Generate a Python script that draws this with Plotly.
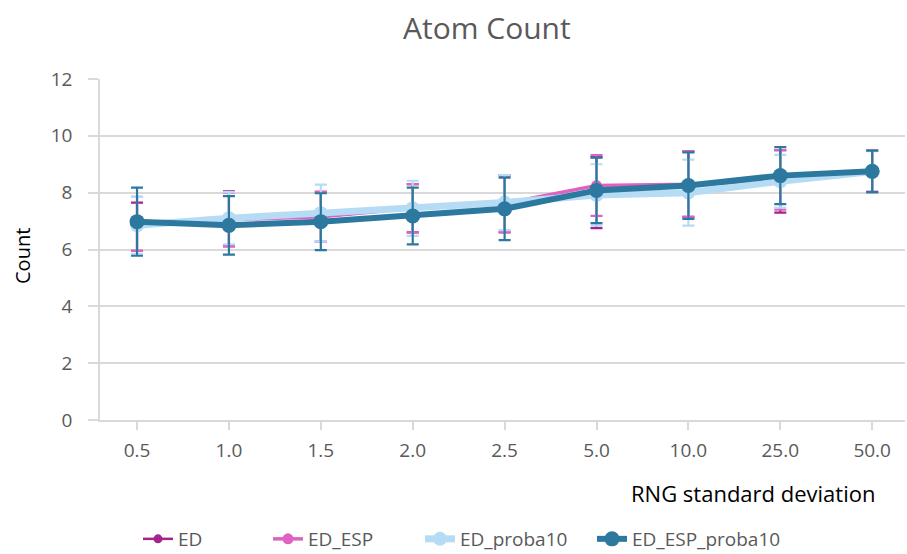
import plotly.graph_objects as go

# RNG standard deviation categories
categories = ["0.5", "1.0", "1.5", "2.0", "2.5", "5.0", "10.0", "25.0", "50.0"]

# Mean atom count and standard deviation per model
ed = [6.80, 7.10, 7.15, 7.45, 7.60, 8.00, 8.30, 8.40, 8.75]
ed_err = [0.85, 0.95, 0.88, 0.85, 1.00, 1.25, 1.15, 1.10, 0.73]

ed_esp = [6.90, 7.05, 7.15, 7.45, 7.62, 8.25, 8.30, 8.45, 8.76]
ed_esp_err = [0.95, 0.95, 0.88, 0.85, 1.00, 1.07, 1.15, 1.05, 0.72]

ed_proba10 = [6.85, 7.10, 7.28, 7.45, 7.65, 7.92, 8.00, 8.40, 8.74]
ed_proba10_err = [1.00, 0.92, 1.00, 0.97, 0.97, 1.08, 1.16, 0.93, 0.72]

ed_esp_proba10 = [6.98, 6.85, 6.98, 7.18, 7.43, 8.08, 8.25, 8.60, 8.75]
ed_esp_proba10_err = [1.20, 1.03, 1.00, 1.00, 1.10, 1.15, 1.17, 1.00, 0.73]

# name, values, errors, colour, line width, marker size, legend slot, legend x
series = [
    ("ED", ed, ed_err, "#A3238F", 2.5, 9, "legend", 0.0472),
    ("ED_ESP", ed_esp, ed_esp_err, "#E062C0", 3.5, 11, "legend2", 0.2087),
    ("ED_proba10", ed_proba10, ed_proba10_err, "#B5DCF4", 7, 14, "legend3", 0.3975),
    ("ED_ESP_proba10", ed_esp_proba10, ed_esp_proba10_err, "#2D789E", 6, 15, "legend4", 0.6112),
]

FONT = "Open Sans"
GRID = "#D9D9D9"
TXT = "#595959"

fig = go.Figure()
legends = {}
for name, vals, errs, color, lw, ms, lg, lx in series:
    fig.add_trace(go.Scatter(
        x=categories, y=vals, name=name, mode="lines+markers",
        line=dict(color=color, width=lw),
        marker=dict(color=color, size=ms),
        error_y=dict(type="data", array=errs, visible=True,
                     color=color, thickness=2.2, width=6),
        legend=lg,
    ))
    legends[lg] = dict(orientation="h", x=lx, xanchor="left", y=(420 - 539) / 341,
                       yanchor="middle", font=dict(size=19, color=TXT),
                       bgcolor="rgba(0,0,0,0)")

fig.update_layout(
    width=907, height=554,
    margin=dict(l=100, r=2, t=79, b=134, autoexpand=False),
    paper_bgcolor="white", plot_bgcolor="white",
    font=dict(family=FONT, color=TXT),
    showlegend=True,
    **legends,
)

fig.update_xaxes(
    type="category", range=[-0.403, 8.357],
    showline=True, linecolor=GRID, linewidth=1.5,
    ticks="outside", ticklen=8, tickcolor=GRID, tickwidth=1.5,
    showgrid=False, tickfont=dict(size=19, color=TXT),
    ticklabelstandoff=4, zeroline=False,
)
fig.update_yaxes(
    range=[0, 12], dtick=2,
    showline=True, linecolor=GRID, linewidth=1.5,
    showgrid=True, gridcolor=GRID, gridwidth=1.5,
    ticks="outside", ticklen=10, tickcolor=GRID, tickwidth=1.5,
    tickfont=dict(size=19, color=TXT), ticklabelstandoff=12, zeroline=False,
)

# chart title and axis titles as free text
fig.add_annotation(text="Atom Count", xref="paper", yref="paper", x=(487 - 100) / 805,
                   y=1.0 + 51 / 341, showarrow=False, font=dict(size=30, color=TXT),
                   xanchor="center", yanchor="middle")
fig.add_annotation(text="Count", xref="paper", yref="paper", x=-78 / 805, y=(420 - 256) / 341,
                   showarrow=False, textangle=-90, font=dict(size=20, color="black"),
                   xanchor="center", yanchor="middle")
fig.add_annotation(text="RNG standard deviation", xref="paper", yref="paper", x=(877 - 100) / 805,
                   y=(420 - 493) / 341, showarrow=False, font=dict(size=22, color="black"),
                   xanchor="right", yanchor="middle")

fig.write_html("out.html")
